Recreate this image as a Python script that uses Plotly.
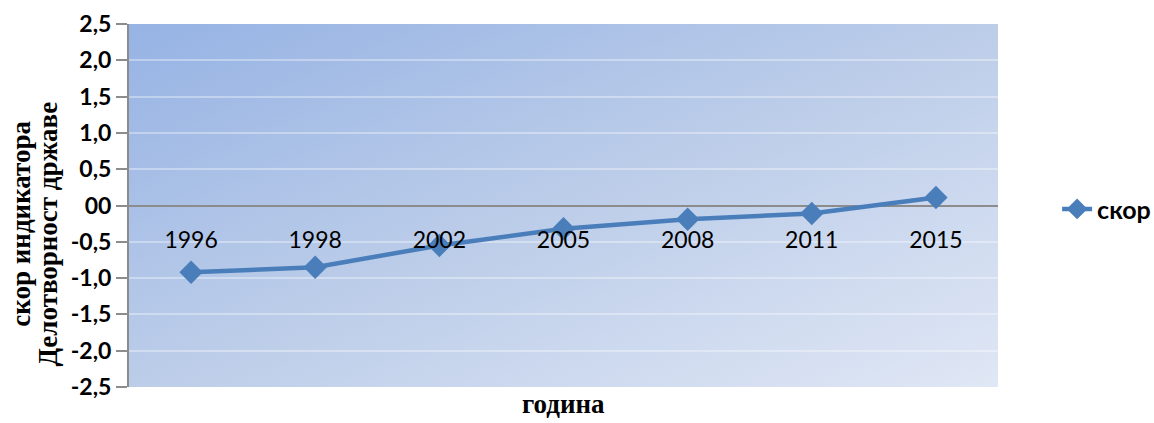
import plotly.graph_objects as go
import urllib.parse

years = ["1996", "1998", "2002", "2005", "2008", "2011", "2015"]
scores = [-0.92, -0.85, -0.55, -0.32, -0.19, -0.11, 0.11]
y_tick_vals = [2.5, 2.0, 1.5, 1.0, 0.5, 0.0, -0.5, -1.0, -1.5, -2.0, -2.5]
y_tick_text = ["2,5", "2,0", "1,5", "1,0", "0,5", "00", "-0,5", "-1,0", "-1,5", "-2,0", "-2,5"]
series_name = "скор"
x_title = "година"
y_title_lines = ["скор индикатора", "Делотворност државе"]

svg = ('<svg xmlns="http://www.w3.org/2000/svg" width="100" height="100" preserveAspectRatio="none">'
       '<defs><linearGradient id="g" x1="0" y1="0" x2="1" y2="1">'
       '<stop offset="0" stop-color="#96b3e4"/>'
       '<stop offset="0.5" stop-color="#bccde9"/>'
       '<stop offset="1" stop-color="#e0e7f5"/>'
       '</linearGradient></defs>'
       '<rect x="0" y="0" width="100" height="100" fill="url(#g)"/></svg>')
bg_src = "data:image/svg+xml;charset=utf-8," + urllib.parse.quote(svg)

fig = go.Figure()
fig.add_trace(go.Scatter(
    x=years, y=scores, mode="lines+markers", name="<b>" + series_name + "</b>",
    line=dict(color="#4a7ebb", width=4.5),
    marker=dict(symbol="diamond", size=18, color="#4a7ebb"),
))

title_font = dict(family="Liberation Serif", size=27, color="black")
annotations = [
    dict(text="<b>" + y_title_lines[0] + "</b>", textangle=-90, xref="paper", yref="paper",
         x=-129 / 869 + 21 / 869, y=0.45, xanchor="center", yanchor="middle",
         showarrow=False, font=title_font),
    dict(text="<b>" + y_title_lines[1] + "</b>", textangle=-90, xref="paper", yref="paper",
         x=-129 / 869 + 48 / 869, y=0.42, xanchor="center", yanchor="middle",
         showarrow=False, font=title_font),
    dict(text="<b>" + x_title + "</b>", xref="paper", yref="paper",
         x=(563 - 129) / 869, y=-(404 - 387) / 363, xanchor="center", yanchor="middle",
         showarrow=False, borderpad=0,
         font=dict(family="Liberation Serif", size=27, color="black")),
]

fig.update_layout(
    width=1154, height=423,
    margin=dict(l=129, r=156, t=24, b=36, autoexpand=False),
    paper_bgcolor="white",
    plot_bgcolor="rgba(0,0,0,0)",
    images=[dict(source=bg_src, xref="paper", yref="paper", x=0, y=1,
                 sizex=1, sizey=1, sizing="stretch", layer="below",
                 xanchor="left", yanchor="top")],
    annotations=annotations,
    showlegend=True,
    legend=dict(x=1.068, y=0.49, xanchor="left", yanchor="middle",
                font=dict(family="Lato", size=25, color="black"),
                bgcolor="rgba(0,0,0,0)"),
    xaxis=dict(
        type="category", range=[-0.5, 6.5],
        anchor="free", position=0.5,
        showline=False, showgrid=False, zeroline=False,
        ticks="outside", ticklen=14, tickcolor="rgba(0,0,0,0)",
        tickfont=dict(family="Lato", size=23, color="black"),
    ),
    yaxis=dict(
        range=[-2.5, 2.5], tickvals=y_tick_vals,
        ticktext=["<b>" + t + "</b>" for t in y_tick_text],
        showline=True, linecolor="#8c8c8c", linewidth=2,
        ticks="outside", ticklen=11, tickcolor="#8c8c8c", tickwidth=2,
        showgrid=True, gridcolor="rgba(255,255,255,0.35)", gridwidth=1.5,
        zeroline=True, zerolinecolor="#8c8c8c", zerolinewidth=2,
        tickfont=dict(family="Lato", size=23, color="black"),
    ),
)

fig.write_html("out.html")
